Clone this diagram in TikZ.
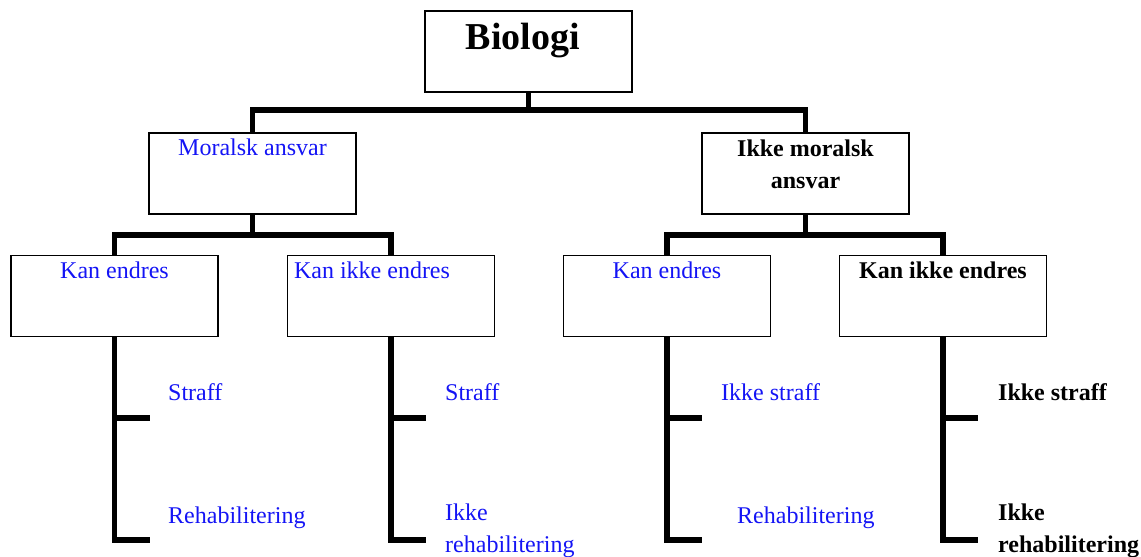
\documentclass[tikz,border=0pt]{standalone}
\usepackage{fontspec}
\setmainfont{Liberation Serif}
\usetikzlibrary{calc}
\definecolor{txtblue}{RGB}{20,20,245}
\begin{document}
\begin{tikzpicture}[x=1pt,y=-1pt,
  box/.style={draw=black,line width=1.5pt,rectangle,inner sep=0pt,minimum width=207pt,minimum height=81pt},
  bar/.style={line width=5.5pt,line join=miter,line cap=butt},
  btxt/.style={font=\fontsize{24}{32}\selectfont,text=txtblue,inner sep=0pt},
  ktxt/.style={font=\fontsize{24}{32}\selectfont\bfseries,text=black,inner sep=0pt},
]
\useasboundingbox (0,0) rectangle (1141,557);
% boxes
\node[box] (bio)  at (528.5,51.5) {};
\node[box] (mor)  at (252.5,173.5) {};
\node[box] (imor) at (805.5,173.5) {};
\node[box] (ke1)  at (114.5,296) {};
\node[box] (kie1) at (391,296) {};
\node[box] (ke2)  at (667,296) {};
\node[box] (kie2) at (943,296) {};
% box texts
\node[anchor=base,inner sep=0pt,font=\fontsize{38}{40}\selectfont\bfseries] (tbio) at (523,49) {Biologi};
\node[btxt,anchor=base] (tmor) at (252.5,155) {Moralsk ansvar};
\node[ktxt,anchor=base,align=center] (timor) at (805.5,188) {Ikke moralsk\\ansvar};
\node[btxt,anchor=base] (tke1) at (114.5,278) {Kan endres};
\node[btxt,anchor=base] (tkie1) at (372,278) {Kan ikke endres};
\node[btxt,anchor=base] (tke2) at (667,278) {Kan endres};
\node[ktxt,anchor=base] (tkie2) at (943,278) {Kan ikke endres};
% connectors level 1
\draw[bar] (bio.south) -- (bio.south |- 0,110);
\draw[bar] (mor.north) |- (imor.north |- 0,110) -- (imor.north);
% level 2
\draw[bar] (mor.south) -- (mor.south |- 0,235);
\draw[bar] (ke1.north) |- (kie1.north |- 0,235) -- (kie1.north);
\draw[bar] (imor.south) -- (imor.south |- 0,235);
\draw[bar] (ke2.north) |- (kie2.north |- 0,235) -- (kie2.north);
% level 3 leaves
\foreach \b in {ke1,kie1,ke2,kie2}{
  \coordinate (\b-t1) at ($(\b.south |- 0,418)+(35,0)$);
  \coordinate (\b-t2) at ($(\b.south |- 0,540)+(35,0)$);
  \draw[bar] (\b.south) |- (\b-t2);
  \draw[bar] (\b.south |- 0,418) -- (\b-t1);
}
% leaf texts
\node[btxt,anchor=base west] (s1) at (168,400) {Straff};
\node[btxt,anchor=base west] (r1) at (168,523) {Rehabilitering};
\node[btxt,anchor=base west] (s2) at (445,400) {Straff};
\node[btxt,anchor=base west,align=left] (r2) at (445,552) {Ikke\\rehabilitering};
\node[btxt,anchor=base west] (s3) at (721,400) {Ikke straff};
\node[btxt,anchor=base west] (r3) at (737,523) {Rehabilitering};
\node[ktxt,anchor=base west] (s4) at (998,400) {Ikke straff};
\node[ktxt,anchor=base west,align=left] (r4) at (998,552) {Ikke\\rehabilitering};
\end{tikzpicture}
\end{document}
